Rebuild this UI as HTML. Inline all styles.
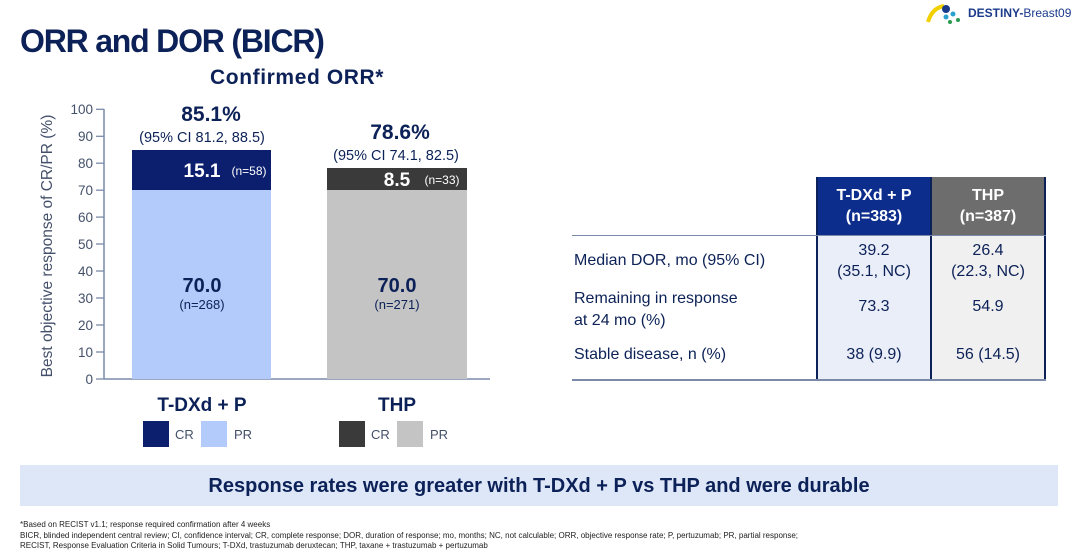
<!DOCTYPE html>
<html><head><style>
body{margin:0;width:1080px;height:556px;background:#fff;font-family:"Liberation Sans",sans-serif;position:relative;overflow:hidden;color:#0c2157}
.a{position:absolute;white-space:nowrap}
.c{text-align:center}
</style></head><body>
<div class="a" style="left:20px;top:23px;font-size:32px;font-weight:bold;letter-spacing:-1.2px">ORR and DOR (BICR)</div>
<div class="a" style="left:210px;top:66px;font-size:21px;font-weight:bold;letter-spacing:0.6px">Confirmed ORR*</div>
<div class="a" style="left:968px;top:6px;font-size:12px;font-weight:bold;color:#1a3a8a">DESTINY-<span style="font-weight:normal">Breast09</span></div>
<svg class="a" style="left:924px;top:2px" width="42" height="22"><path d="M4 20 Q8 6 20 4" stroke="#f2d000" stroke-width="4" fill="none"/><circle cx="22" cy="7" r="4" fill="#1a3a8a"/><circle cx="29" cy="12" r="2.5" fill="#2aa0d0"/><circle cx="22" cy="15" r="2.5" fill="#2aa0d0"/><circle cx="34" cy="18" r="2" fill="#2a9a50"/><circle cx="26" cy="20" r="2" fill="#2a9a50"/></svg>

<svg class="a" style="left:0;top:0" width="560" height="460">
<g stroke="#7a8aa8" stroke-width="1.5">
<line x1="104" y1="109" x2="104" y2="379"/>
<line x1="104" y1="379" x2="490" y2="379"/>
</g>
<g stroke="#7a8aa8" stroke-width="1.3" font-size="13.5" fill="#44506a" text-anchor="end" font-family="Liberation Sans">
<line x1="96" y1="109.3" x2="104" y2="109.3"/><text x="93" y="114" stroke="none">100</text>
<line x1="96" y1="136.3" x2="104" y2="136.3"/><text x="93" y="141" stroke="none">90</text>
<line x1="96" y1="163.2" x2="104" y2="163.2"/><text x="93" y="168" stroke="none">80</text>
<line x1="96" y1="190.2" x2="104" y2="190.2"/><text x="93" y="195" stroke="none">70</text>
<line x1="96" y1="217.1" x2="104" y2="217.1"/><text x="93" y="222" stroke="none">60</text>
<line x1="96" y1="244" x2="104" y2="244"/><text x="93" y="249" stroke="none">50</text>
<line x1="96" y1="271" x2="104" y2="271"/><text x="93" y="276" stroke="none">40</text>
<line x1="96" y1="298" x2="104" y2="298"/><text x="93" y="303" stroke="none">30</text>
<line x1="96" y1="325" x2="104" y2="325"/><text x="93" y="330" stroke="none">20</text>
<line x1="96" y1="352" x2="104" y2="352"/><text x="93" y="357" stroke="none">10</text>
<line x1="96" y1="379" x2="104" y2="379"/><text x="93" y="384" stroke="none">0</text>
</g>
<text transform="translate(52,246) rotate(-90)" text-anchor="middle" font-size="15.5" fill="#44506a" font-family="Liberation Sans">Best objective response of CR/PR (%)</text>
<rect x="132" y="190" width="139" height="189" fill="#b3cbfb"/>
<rect x="132" y="150" width="139" height="40" fill="#0c1f6e"/>
<rect x="327" y="190" width="140" height="189" fill="#c4c4c4"/>
<rect x="327" y="168" width="140" height="22" fill="#3a3a3a"/>
<g font-family="Liberation Sans" text-anchor="middle">
<text x="211" y="121" font-size="21" font-weight="bold" fill="#0c2157">85.1%</text>
<text x="202" y="142" font-size="14.5" fill="#0c2157">(95% CI 81.2, 88.5)</text>
<text x="400" y="139" font-size="21" font-weight="bold" fill="#0c2157">78.6%</text>
<text x="396" y="160" font-size="14.5" fill="#0c2157">(95% CI 74.1, 82.5)</text>
<text x="202" y="177" font-size="19" font-weight="bold" fill="#fff">15.1</text>
<text x="249" y="175" font-size="12" fill="#fff">(n=58)</text>
<text x="397" y="186" font-size="19" font-weight="bold" fill="#fff">8.5</text>
<text x="442" y="184" font-size="12" fill="#fff">(n=33)</text>
<text x="202" y="292" font-size="20" font-weight="bold" fill="#0c2157">70.0</text>
<text x="202" y="309" font-size="13" fill="#0c2157">(n=268)</text>
<text x="397" y="292" font-size="20" font-weight="bold" fill="#0c2157">70.0</text>
<text x="397" y="309" font-size="13" fill="#0c2157">(n=271)</text>
<text x="202" y="411" font-size="19" font-weight="bold" fill="#0c2157">T-DXd + P</text>
<text x="397" y="411" font-size="19" font-weight="bold" fill="#0c2157">THP</text>
</g>
<rect x="143" y="421" width="26" height="26" fill="#0c1f6e"/>
<rect x="201" y="421" width="26" height="26" fill="#b3cbfb"/>
<rect x="339" y="421" width="26" height="26" fill="#3a3a3a"/>
<rect x="397" y="421" width="26" height="26" fill="#c4c4c4"/>
<g font-family="Liberation Sans" font-size="13" fill="#44506a">
<text x="175" y="439">CR</text><text x="234" y="439">PR</text>
<text x="371" y="439">CR</text><text x="430" y="439">PR</text>
</g>
</svg>

<div class="a" style="left:817px;top:177px;width:114px;height:58px;background:#0c2d8c"></div>
<div class="a" style="left:931px;top:177px;width:114px;height:58px;background:#6d6d6d"></div>
<div class="a" style="left:817px;top:235px;width:114px;height:144px;background:#e9eef8"></div>
<div class="a" style="left:931px;top:235px;width:114px;height:144px;background:#f0f0f0"></div>
<div class="a" style="left:816px;top:177px;width:2px;height:203px;background:#0c2157"></div>
<div class="a" style="left:930px;top:177px;width:2px;height:203px;background:#0c2157"></div>
<div class="a" style="left:1044px;top:177px;width:2px;height:203px;background:#0c2157"></div>
<div class="a" style="left:572px;top:235px;width:474px;height:1px;background:#7a8aa8"></div>
<div class="a" style="left:572px;top:379px;width:474px;height:2px;background:#7a8aa8"></div>
<div class="a c" style="left:817px;top:185px;width:114px;font-size:16px;font-weight:bold;color:#fff;line-height:21px">T-DXd + P<br>(n=383)</div>
<div class="a c" style="left:931px;top:185px;width:114px;font-size:16px;font-weight:bold;color:#fff;line-height:21px">THP<br>(n=387)</div>
<div class="a" style="left:574px;top:252px;font-size:16px;color:#0c2157">Median DOR, mo (95% CI)</div>
<div class="a" style="left:574px;top:288px;font-size:16px;color:#0c2157;line-height:22px">Remaining in response<br>at 24 mo (%)</div>
<div class="a" style="left:574px;top:346px;font-size:16px;color:#0c2157">Stable disease, n (%)</div>
<div class="a c" style="left:817px;top:240px;width:114px;font-size:16px;line-height:21px">39.2<br>(35.1, NC)</div>
<div class="a c" style="left:931px;top:240px;width:114px;font-size:16px;line-height:21px">26.4<br>(22.3, NC)</div>
<div class="a c" style="left:817px;top:298px;width:114px;font-size:16px">73.3</div>
<div class="a c" style="left:931px;top:298px;width:114px;font-size:16px">54.9</div>
<div class="a c" style="left:817px;top:346px;width:114px;font-size:16px">38 (9.9)</div>
<div class="a c" style="left:931px;top:346px;width:114px;font-size:16px">56 (14.5)</div>

<div class="a c" style="left:20px;top:465px;width:1038px;height:41px;background:#dde7f8;font-size:20px;font-weight:bold;line-height:42px;color:#0c2157">Response rates were greater with T-DXd + P vs THP and were durable</div>
<div class="a" style="left:20px;top:520px;font-size:8px;line-height:10.5px;color:#222">*Based on RECIST v1.1; response required confirmation after 4 weeks<br>BICR, blinded independent central review; CI, confidence interval; CR, complete response; DOR, duration of response; mo, months; NC, not calculable; ORR, objective response rate; P, pertuzumab; PR, partial response;<br>RECIST, Response Evaluation Criteria in Solid Tumours; T-DXd, trastuzumab deruxtecan; THP, taxane + trastuzumab + pertuzumab</div>
</body></html>
